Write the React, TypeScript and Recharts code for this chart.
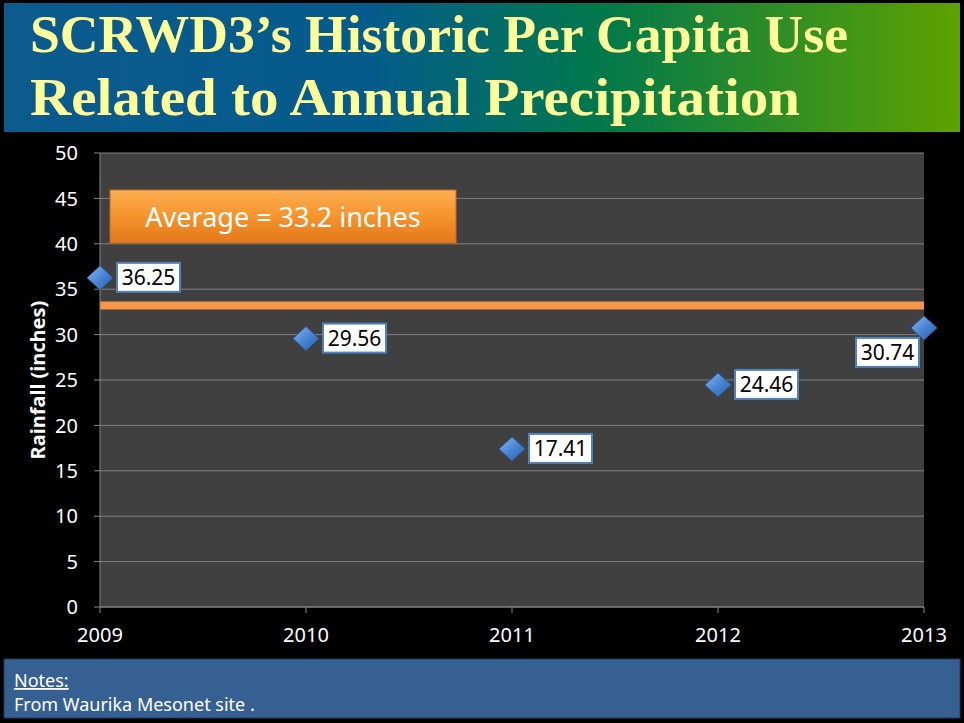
import React from "react"
import { ComposedChart, Scatter, XAxis, YAxis, CartesianGrid, ReferenceLine } from "recharts"

const years = [2009, 2010, 2011, 2012, 2013]
const rainfall = [36.25, 29.56, 17.41, 24.46, 30.74]
const average = 33.2
const yTicks = [0, 5, 10, 15, 20, 25, 30, 35, 40, 45, 50]

const points = years.map((year, i) => ({ year, rain: rainfall[i] }))

const W = 964
const H = 723

function PointShape(props: any) {
    const { cx, cy, payload } = props
    if (cx == null || cy == null) return null
    const last = payload.year === years[years.length - 1]
    const bx = last ? cx - 68 : cx + 17
    const by = last ? cy + 10 : cy - 15
    return (
        <g>
            <polygon
                points={`${cx},${cy - 12} ${cx + 13},${cy} ${cx},${cy + 12} ${cx - 13},${cy}`}
                fill="url(#diamondFill)"
                stroke="#2b5a9a"
                strokeWidth={1}
            />
            <rect x={bx} y={by} width={63} height={29} fill="#fff" stroke="#4f81bd" strokeWidth={2} />
            <text x={bx + 31.5} y={by + 22} textAnchor="middle" fontSize={21} fill="#000" fontFamily="'Noto Sans', sans-serif">
                {payload.rain.toFixed(2)}
            </text>
        </g>
    )
}

export default function App() {
    return (
        <div style={{ position: "absolute", left: 0, top: 0, width: W, height: H, background: "#000", overflow: "hidden" }}>
            <ComposedChart width={W} height={H} data={points} margin={{ top: 153, right: 40, left: 0, bottom: 86 }}>
                <defs>
                    <linearGradient id="diamondFill" x1="0" y1="0" x2="1" y2="1">
                        <stop offset="0%" stopColor="#8cbaf0" />
                        <stop offset="50%" stopColor="#4a86d4" />
                        <stop offset="100%" stopColor="#2a5ea8" />
                    </linearGradient>
                </defs>
                <CartesianGrid vertical={false} stroke="#808080" fill="#404040" />
                <XAxis
                    type="number"
                    dataKey="year"
                    domain={[2009, 2013]}
                    ticks={years}
                    height={30}
                    stroke="#868686"
                    tickSize={6}
                    tickMargin={15}
                    tick={{ fill: "#fff", fontSize: 20, fontFamily: "'Noto Sans', sans-serif" }}
                />
                <YAxis
                    type="number"
                    dataKey="rain"
                    domain={[0, 50]}
                    ticks={yTicks}
                    width={100}
                    stroke="#868686"
                    tickSize={6}
                    tickMargin={16}
                    tick={{ fill: "#fff", fontSize: 20, fontFamily: "'Noto Sans', sans-serif" }}
                />
                <ReferenceLine y={average} stroke="#f79646" strokeWidth={8} />
                <Scatter dataKey="rain" shape={PointShape} isAnimationActive={false} />
            </ComposedChart>
            <svg width={W} height={H} style={{ position: "absolute", left: 0, top: 0, pointerEvents: "none" }}>
                <defs>
                    <linearGradient id="banner" x1="0" y1="0" x2="1" y2="0">
                        <stop offset="0%" stopColor="#0c5a8e" />
                        <stop offset="38%" stopColor="#055b8c" />
                        <stop offset="62%" stopColor="#00784c" />
                        <stop offset="100%" stopColor="#5ea200" />
                    </linearGradient>
                    <linearGradient id="avgBox" x1="0" y1="0" x2="0" y2="1">
                        <stop offset="0%" stopColor="#fbb055" />
                        <stop offset="45%" stopColor="#f7962f" />
                        <stop offset="100%" stopColor="#e2781a" />
                    </linearGradient>
                </defs>
                <rect x={4} y={3} width={956} height={129} fill="url(#banner)" />
                <text x={30} y={52} fill="#ffff99" fontSize={52} fontWeight="bold" fontFamily="'Liberation Serif', serif" textLength={818} lengthAdjust="spacingAndGlyphs">
                    SCRWD3’s Historic Per Capita Use
                </text>
                <text x={30} y={115} fill="#ffff99" fontSize={52} fontWeight="bold" fontFamily="'Liberation Serif', serif" textLength={770} lengthAdjust="spacingAndGlyphs">
                    Related to Annual Precipitation
                </text>
                <rect x={110} y={190} width={346} height={53} fill="url(#avgBox)" stroke="#c9691a" strokeWidth={1} />
                <text x={283} y={227} textAnchor="middle" fill="#fff" fontSize={27} fontFamily="'Noto Sans', sans-serif">
                    Average = 33.2 inches
                </text>
                <text
                    x={37}
                    y={380}
                    transform="rotate(-90 37 380)"
                    textAnchor="middle"
                    dominantBaseline="central"
                    fill="#fff"
                    fontSize={20}
                    fontWeight="bold"
                    fontFamily="'Noto Sans', sans-serif"
                >
                    Rainfall (inches)
                </text>
                <rect x={4} y={659} width={956} height={59} fill="#366092" stroke="#1f3d63" strokeWidth={1} />
                <text x={14} y={687} fill="#fff" fontSize={18} fontFamily="'Noto Sans', sans-serif" textDecoration="underline">
                    Notes:
                </text>
                <text x={14} y={711} fill="#fff" fontSize={18} fontFamily="'Noto Sans', sans-serif">
                    From Waurika Mesonet site .
                </text>
            </svg>
        </div>
    )
}
